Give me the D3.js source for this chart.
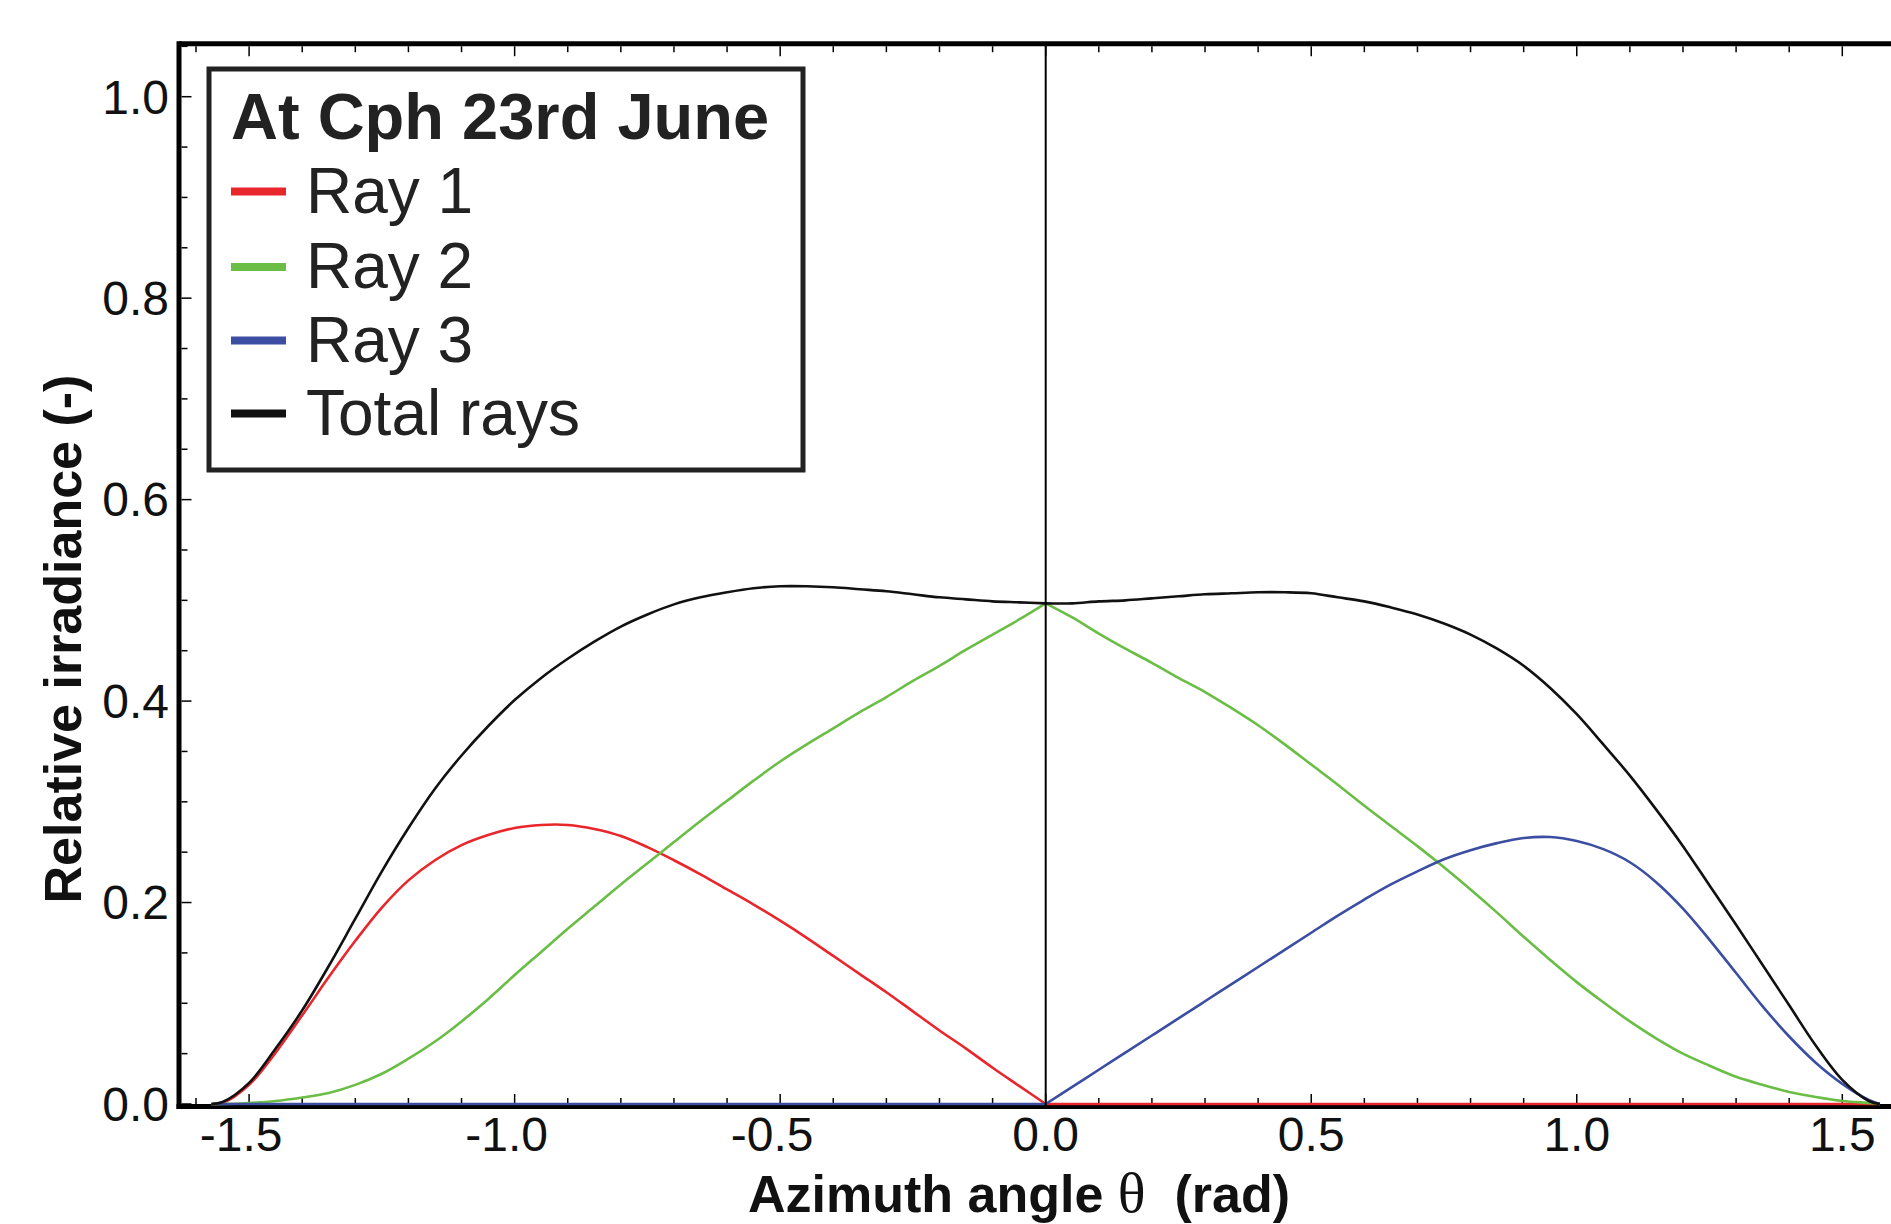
<!DOCTYPE html>
<html>
<head>
<meta charset="utf-8">
<script src="https://cdn.jsdelivr.net/npm/d3@7"></script>
<style>
  html, body { margin: 0; padding: 0; background: #ffffff; }
  svg { display: block; }
  text { font-family: "Liberation Sans", Arial, Helvetica, sans-serif; }
</style>
</head>
<body>
<svg id="chart" width="1891" height="1224"></svg>
<script>
// ---------------- DATA ----------------
const theta = [-1.5708, -1.55, -1.50, -1.45, -1.40, -1.35, -1.30, -1.25, -1.20, -1.15, -1.10, -1.05,
  -1.00, -0.95, -0.90, -0.85, -0.80, -0.75, -0.70, -0.65, -0.60, -0.55, -0.50, -0.45, -0.40, -0.35,
  -0.30, -0.25, -0.20, -0.15, -0.10, -0.05, 0,
  0.05, 0.10, 0.15, 0.20, 0.25, 0.30, 0.35, 0.40, 0.45, 0.50, 0.55, 0.60, 0.65, 0.70, 0.75, 0.80,
  0.85, 0.90, 0.95, 1.00, 1.05, 1.10, 1.15, 1.20, 1.25, 1.30, 1.35, 1.40, 1.45, 1.50, 1.55, 1.5708];

const ray1 = [0, 0.001, 0.019, 0.051, 0.088, 0.126, 0.162, 0.195, 0.222, 0.242, 0.257, 0.267,
  0.274, 0.277, 0.277, 0.273, 0.266, 0.255, 0.242, 0.228, 0.213, 0.198, 0.182, 0.165, 0.147, 0.129,
  0.111, 0.092, 0.073, 0.055, 0.036, 0.018, 0,
  0, 0, 0, 0, 0, 0, 0, 0, 0, 0, 0, 0, 0, 0, 0, 0,
  0, 0, 0, 0, 0, 0, 0, 0, 0, 0, 0, 0, 0, 0, 0, 0];

const ray2 = [0, 0, 0.001, 0.003, 0.0065, 0.011, 0.019, 0.030, 0.045, 0.062, 0.082, 0.104,
  0.128, 0.151, 0.174, 0.196, 0.218, 0.239, 0.260, 0.281, 0.301, 0.321, 0.340, 0.357, 0.373, 0.389,
  0.404, 0.420, 0.435, 0.451, 0.466, 0.481, 0.497,
  0.483, 0.467, 0.452, 0.438, 0.423, 0.409, 0.393, 0.376, 0.357, 0.337, 0.317, 0.296, 0.276, 0.256, 0.235, 0.213,
  0.190, 0.166, 0.143, 0.121, 0.101, 0.082, 0.065, 0.050, 0.038, 0.027, 0.019, 0.012, 0.007, 0.003, 0.001, 0];

const ray3 = [0, 0, 0, 0, 0, 0, 0, 0, 0, 0, 0, 0,
  0, 0, 0, 0, 0, 0, 0, 0, 0, 0, 0, 0, 0, 0,
  0, 0, 0, 0, 0, 0, 0,
  0.017, 0.034, 0.051, 0.068, 0.085, 0.102, 0.119, 0.136, 0.153, 0.170, 0.187, 0.203, 0.218, 0.231, 0.243, 0.252,
  0.259, 0.264, 0.265, 0.261, 0.253, 0.240, 0.220, 0.194, 0.163, 0.130, 0.097, 0.067, 0.041, 0.020, 0.004, 0];

const total = [0, 0.002, 0.021, 0.055, 0.093, 0.137, 0.184, 0.231, 0.274, 0.313, 0.346, 0.375,
  0.401, 0.423, 0.442, 0.459, 0.474, 0.486, 0.496, 0.503, 0.508, 0.512, 0.514, 0.514, 0.513, 0.511,
  0.509, 0.506, 0.503, 0.501, 0.499, 0.498, 0.497,
  0.497, 0.499, 0.500, 0.502, 0.504, 0.506, 0.507, 0.508, 0.508, 0.507, 0.503, 0.499, 0.493, 0.486, 0.477, 0.466,
  0.452, 0.435, 0.413, 0.387, 0.357, 0.326, 0.292, 0.256, 0.217, 0.178, 0.138, 0.098, 0.058, 0.024, 0.003, 0];

const seriesNames = ["Ray 1", "Ray 2", "Ray 3", "Total rays"];
const seriesColors = ["#e8262c", "#6abd45", "#3b4ea2", "#111111"];
const legendTitle = "At Cph 23rd June";
const xTickValues = [-1.5, -1.0, -0.5, 0.0, 0.5, 1.0, 1.5];
const yTickValues = [0.0, 0.2, 0.4, 0.6, 0.8, 1.0];
const xTitle = "Azimuth angle ";
const xTitleSymbol = "θ";
const xTitleUnit = "  (rad)";
const yTitle = "Relative irradiance (-)";

// ---------------- LAYOUT ----------------
const svg = d3.select("#chart");
svg.append("rect").attr("width", 1891).attr("height", 1224).attr("fill", "#ffffff");

const x = d3.scaleLinear().domain([-1.632, 1.632]).range([179, 1912.4]);
const y = d3.scaleLinear().domain([0, 1]).range([1104, 96.7]);
const yTopVal = 1.0526;
const xLeft = x(-1.632), xRight = x(1.632);
const yTop = y(yTopVal), yBot = 1106.5;

const series = [ray1, ray2, ray3, total];

svg.append("clipPath").attr("id", "plotclip")
  .append("rect").attr("x", xLeft).attr("y", yTop - 3).attr("width", xRight - xLeft).attr("height", yBot - yTop + 3);

// frame
const frame = svg.append("g");
frame.append("line").attr("x1", xLeft).attr("x2", 1891).attr("y1", yTop).attr("y2", yTop)
  .attr("stroke", "#000").attr("stroke-width", 5);
frame.append("line").attr("x1", xLeft - 2.5).attr("x2", 1891).attr("y1", yBot).attr("y2", yBot)
  .attr("stroke", "#000").attr("stroke-width", 5);
frame.append("line").attr("x1", xLeft).attr("x2", xLeft).attr("y1", yTop - 2.5).attr("y2", yBot + 2.5)
  .attr("stroke", "#000").attr("stroke-width", 5);

// x ticks (bottom and top), inward
const xMinor = d3.range(-16, 17).map(d => d / 10);
xMinor.forEach(v => {
  const major = Math.abs(Math.round(v * 10) % 5) === 0;
  const len = major ? 10 : 6;
  frame.append("line").attr("x1", x(v)).attr("x2", x(v)).attr("y1", yBot - 2.5).attr("y2", yBot - 2.5 - len)
    .attr("stroke", "#000").attr("stroke-width", 1.5);
  frame.append("line").attr("x1", x(v)).attr("x2", x(v)).attr("y1", yTop + 2.5).attr("y2", yTop + 2.5 + len)
    .attr("stroke", "#000").attr("stroke-width", 1.5);
});
// y ticks (left), inward
const yMinor = d3.range(0, 22).map(d => d * 0.05);
yMinor.forEach(v => {
  const major = Math.round(v * 100) % 20 === 0;
  const len = major ? 10 : 6;
  frame.append("line").attr("x1", xLeft + 2.5).attr("x2", xLeft + 2.5 + len).attr("y1", y(v)).attr("y2", y(v))
    .attr("stroke", "#000").attr("stroke-width", 1.5);
});

// tick labels
svg.append("g").selectAll("text").data(xTickValues).join("text")
  .attr("x", d => x(d) + (d < 0 ? -8 : 0))
  .attr("y", 1151)
  .attr("text-anchor", "middle")
  .attr("font-size", 48)
  .attr("fill", "#111")
  .text(d => d3.format(".1f")(d).replace("−", "-"));

svg.append("g").selectAll("text").data(yTickValues).join("text")
  .attr("x", 169)
  .attr("y", d => y(d))
  .attr("dy", "0.35em")
  .attr("text-anchor", "end")
  .attr("font-size", 48)
  .attr("fill", "#111")
  .text(d => d3.format(".1f")(d));

// axis titles
const xt = svg.append("text").attr("x", 748).attr("y", 1212)
  .attr("font-size", 52).attr("font-weight", "bold").attr("fill", "#111");
xt.append("tspan").text(xTitle);
xt.append("tspan").attr("font-family", "'Liberation Serif', 'Times New Roman', serif")
  .attr("font-weight", "normal").attr("font-size", 58).text(xTitleSymbol);
xt.append("tspan").attr("style", "white-space:pre").text(xTitleUnit);

svg.append("text")
  .attr("transform", "translate(81,639) rotate(-90)")
  .attr("text-anchor", "middle")
  .attr("font-size", 52).attr("font-weight", "bold").attr("fill", "#111")
  .text(yTitle);

// curves
const plot = svg.append("g").attr("clip-path", "url(#plotclip)");
const line = d3.line().x(d => x(d[0])).y(d => y(d[1])).curve(d3.curveCatmullRom.alpha(0.5));
series.forEach((vals, i) => {
  const pts = theta.map((t, j) => [t, vals[j]]);
  const left = pts.filter(p => p[0] <= 0);
  const right = pts.filter(p => p[0] >= 0);
  [left, right].forEach(part => {
    plot.append("path").attr("d", line(part))
      .attr("fill", "none")
      .attr("stroke", seriesColors[i])
      .attr("stroke-width", 2.6)
      .attr("stroke-linejoin", "round");
  });
});

// vertical line at theta = 0
plot.append("line").attr("x1", x(0)).attr("x2", x(0)).attr("y1", yTop).attr("y2", yBot)
  .attr("stroke", "#000").attr("stroke-width", 2);

// legend
const lg = svg.append("g");
lg.append("rect").attr("x", 209).attr("y", 69).attr("width", 594).attr("height", 401)
  .attr("fill", "#fff").attr("stroke", "#222").attr("stroke-width", 5);
lg.append("text").attr("x", 231).attr("y", 138.5)
  .attr("font-size", 65).attr("font-weight", "bold").attr("fill", "#222")
  .text(legendTitle);
const legendBase = [212.5, 288, 361.5, 434.5];
seriesNames.forEach((name, i) => {
  lg.append("line").attr("x1", 231).attr("x2", 286)
    .attr("y1", legendBase[i] - 21).attr("y2", legendBase[i] - 21)
    .attr("stroke", seriesColors[i]).attr("stroke-width", 8);
  lg.append("text").attr("x", 306).attr("y", legendBase[i])
    .attr("font-size", 64).attr("fill", "#222").text(name);
});
</script>
</body>
</html>
